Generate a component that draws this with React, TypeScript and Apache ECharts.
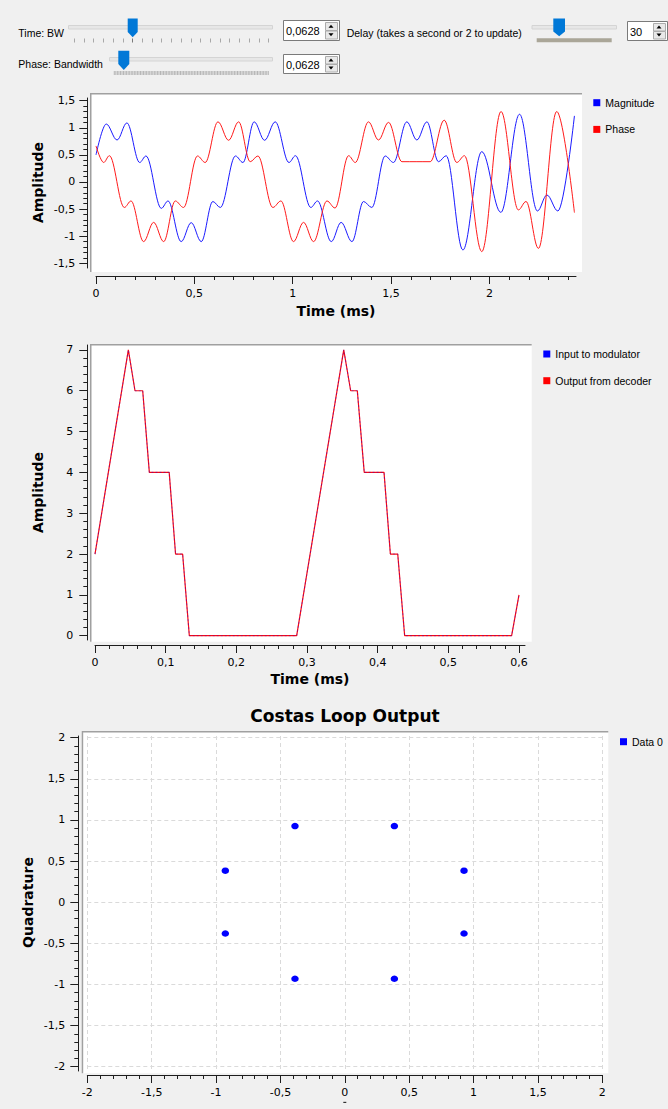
import React, { useEffect, useRef } from "react";
import * as echarts from "echarts";

// ---------- data ----------
// Chart 1: Time (ms) vs Amplitude (local extrema of each trace)
const magTime = [0, 0.052, 0.107, 0.157, 0.222, 0.254, 0.332, 0.366, 0.433, 0.484, 0.535, 0.594, 0.632, 0.709, 0.747, 0.804, 0.857, 0.911, 0.981, 1.014, 1.092, 1.126, 1.196, 1.246, 1.301, 1.36, 1.402, 1.47, 1.512, 1.58, 1.631, 1.682, 1.741, 1.78, 1.865, 1.961, 2.058, 2.153, 2.244, 2.292, 2.348, 2.432];
const magValues = [0.5, 1.07, 0.775, 1.09, 0.36, 0.48, -0.486, -0.35, -1.1, -0.75, -1.1, -0.36, -0.47, 0.48, 0.36, 1.11, 0.77, 1.11, 0.36, 0.485, -0.47, -0.35, -1.1, -0.745, -1.1, -0.36, -0.47, 0.48, 0.36, 1.11, 0.775, 1.11, 0.375, 0.485, -1.255, 0.56, -0.56, 1.25, -0.535, -0.24, -0.535, 1.22];
const phaseTime = [0, 0.039, 0.068, 0.144, 0.178, 0.242, 0.293, 0.344, 0.403, 0.445, 0.516, 0.555, 0.62, 0.674, 0.725, 0.784, 0.823, 0.899, 0.94, 1.004, 1.055, 1.106, 1.174, 1.215, 1.284, 1.318, 1.385, 1.436, 1.487, 1.555, 1.699, 1.77, 1.834, 1.873, 1.961, 2.059, 2.147, 2.186, 2.249, 2.342, 2.432];
const phaseValues = [0.665, 0.36, 0.485, -0.47, -0.35, -1.1, -0.745, -1.1, -0.35, -0.47, 0.48, 0.36, 1.11, 0.77, 1.11, 0.375, 0.48, -0.47, -0.35, -1.1, -0.745, -1.1, -0.35, -0.48, 0.485, 0.36, 1.11, 0.775, 1.1, 0.375, 0.375, 1.14, 0.36, 0.485, -1.285, 1.3, -0.515, -0.36, -1.225, 1.3, -0.565];

// Chart 2: decoder
const decoderTime = [0, 0.0472, 0.0566, 0.0675, 0.0769, 0.105, 0.114, 0.124, 0.1335, 0.2854, 0.352, 0.3618, 0.3712, 0.381, 0.409, 0.418, 0.4284, 0.4382, 0.5896, 0.6];
const inputValues = [2, 7, 6, 6, 4, 4, 2, 2, 0, 0, 7, 6, 6, 4, 4, 2, 2, 0, 0, 1];
const outputValues = [2, 7, 6, 6, 4, 4, 2, 2, 0, 0, 7, 6, 6, 4, 4, 2, 2, 0, 0, 1];

// Chart 3: Costas loop constellation
const costasI = [-0.387, 0.385, -0.928, 0.926, -0.928, 0.926, -0.387, 0.385];
const costasQ = [0.925, 0.925, 0.383, 0.383, -0.38, -0.38, -0.93, -0.93];

// Tick labels
const timeTicks1 = [0, 0.5, 1, 1.5, 2];
const ampTicks1 = [-1.5, -1, -0.5, 0, 0.5, 1, 1.5];
const timeTicks2 = [0, 0.1, 0.2, 0.3, 0.4, 0.5, 0.6];
const ampTicks2 = [0, 1, 2, 3, 4, 5, 6, 7];
const iqTicks = [-2, -1.5, -1, -0.5, 0, 0.5, 1, 1.5, 2];

// ---------- styling helpers ----------
const TICK_FONT = '"DejaVu Sans", sans-serif';
const UI_FONT = '"Liberation Sans", Arial, sans-serif';
const AXIS_COLOR = "#1e1e1e";

function steps(min: number, max: number, step: number): number[] {
  const out: number[] = [];
  const n = Math.round((max - min) / step);
  for (let i = 0; i <= n; i++) out.push(Math.round((min + i * step) * 10000) / 10000);
  return out;
}
const fmt = (v: number) => String(Math.round(v * 1000) / 1000).replace(".", ",");

function axisPair(
  gridIndex: number,
  position: string,
  min: number,
  max: number,
  major: number[],
  minor: number[],
  offset: number,
  margin: number,
  split?: boolean
) {
  return [
    {
      type: "value",
      gridIndex,
      position,
      offset,
      min,
      max,
      axisLine: { show: true, onZero: false, lineStyle: { color: AXIS_COLOR, width: 1 } },
      axisTick: { show: true, length: 8, customValues: major, lineStyle: { color: AXIS_COLOR, width: 1 } },
      axisLabel: {
        show: true,
        customValues: major,
        margin,
        formatter: fmt,
        color: "#000",
        fontSize: 11,
        fontFamily: TICK_FONT,
      },
      splitLine: split
        ? { show: true, lineStyle: { color: "#dadada", width: 1, type: [4, 3] } }
        : { show: false },
      minorTick: { show: false },
    },
    {
      type: "value",
      gridIndex,
      position,
      offset,
      min,
      max,
      axisLine: { show: false, onZero: false },
      axisTick: { show: true, length: 4, customValues: minor, lineStyle: { color: AXIS_COLOR, width: 1 } },
      axisLabel: { show: false },
      splitLine: { show: false },
    },
  ];
}

function spinBox(x: number, y: number, w: number, h: number, text: string) {
  const bx = x + w - 15;
  const half = (h - 4) / 2;
  const cx = bx + 6;
  const upC = y + 2 + half / 2;
  const dnC = y + 2 + half + half / 2;
  return [
    { type: "rect", shape: { x: x + 0.5, y: y + 0.5, width: w - 1, height: h - 1 }, style: { fill: "#ffffff", stroke: "#7a7a7a", lineWidth: 1 } },
    { type: "text", x: x + 3, y: y + h / 2 + 0.5, style: { text, font: `11px ${UI_FONT}`, fill: "#000", align: "left", verticalAlign: "middle" } },
    { type: "rect", shape: { x: bx + 0.5, y: y + 2.5, width: 12, height: half - 0.5 }, style: { fill: "#e8e8e8", stroke: "#acacac", lineWidth: 1 } },
    { type: "rect", shape: { x: bx + 0.5, y: y + 2.5 + half, width: 12, height: half - 0.5 }, style: { fill: "#e8e8e8", stroke: "#acacac", lineWidth: 1 } },
    { type: "polygon", shape: { points: [[cx - 2.5, upC + 1.5], [cx + 2.5, upC + 1.5], [cx, upC - 1.5]] }, style: { fill: "#000" } },
    { type: "polygon", shape: { points: [[cx - 2.5, dnC - 1.5], [cx + 2.5, dnC - 1.5], [cx, dnC + 1.5]] }, style: { fill: "#000" } },
  ];
}

function canvasFrame(x: number, y: number, w: number, h: number) {
  return [
    { type: "rect", z: -10, shape: { x, y, width: w, height: h }, style: { fill: "#ffffff" } },
    { type: "polyline", z: -9, shape: { points: [[x + 0.75, y + h], [x + 0.75, y + 0.75], [x + w, y + 0.75]] }, style: { stroke: "#a0a0a0", lineWidth: 1.5, fill: null } },
  ];
}

function buildGraphic() {
  const els: any[] = [];
  // ----- controls -----
  els.push({ type: "text", x: 18.3, y: 32.7, style: { text: "Time: BW", font: `10.5px ${UI_FONT}`, fill: "#000", align: "left", verticalAlign: "middle" } });
  els.push({ type: "text", x: 18.3, y: 64.3, style: { text: "Phase: Bandwidth", font: `10.5px ${UI_FONT}`, fill: "#000", align: "left", verticalAlign: "middle" } });
  els.push({ type: "text", x: 346.7, y: 32.7, style: { text: "Delay (takes a second or 2 to update)", font: `10.5px ${UI_FONT}`, fill: "#000", align: "left", verticalAlign: "middle" } });

  // slider grooves
  els.push({ type: "rect", shape: { x: 68.5, y: 25.5, width: 204, height: 3.5 }, style: { fill: "#e7e7e7", stroke: "#d4d4d4", lineWidth: 1 } });
  els.push({ type: "rect", shape: { x: 109.5, y: 57.5, width: 163, height: 3.5 }, style: { fill: "#e7e7e7", stroke: "#d4d4d4", lineWidth: 1 } });
  els.push({ type: "rect", shape: { x: 532, y: 25.5, width: 84.5, height: 3.5 }, style: { fill: "#e7e7e7", stroke: "#d4d4d4", lineWidth: 1 } });

  // slider 1 ticks
  for (let i = 0; i < 21; i++) {
    const tx = Math.round(74 + i * 9.715) + 0.5;
    els.push({ type: "line", shape: { x1: tx, y1: 38.5, x2: tx, y2: 42.5 }, style: { stroke: i === 6 ? "#7a7a7a" : "#a8a8a8", lineWidth: 1 } });
  }
  // slider 2 dense ticks
  for (let i = 0; i <= 100; i++) {
    const tx = 114.3 + i * 1.54;
    els.push({ type: "line", shape: { x1: tx, y1: 71, x2: tx, y2: 75 }, style: { stroke: "#a6a6a6", lineWidth: 0.8 } });
  }
  // slider 3 tick band
  els.push({ type: "rect", shape: { x: 536.7, y: 38.3, width: 75, height: 4 }, style: { fill: "#aaa698" } });

  // handles
  els.push({ type: "polygon", shape: { points: [[127.7, 18.5], [137.7, 18.5], [137.7, 32], [132.7, 37.3], [127.7, 32]] }, style: { fill: "#0078d7" } });
  els.push({ type: "polygon", shape: { points: [[118.3, 50.7], [129.3, 50.7], [129.3, 64], [123.8, 70], [118.3, 64]] }, style: { fill: "#0078d7" } });
  els.push({ type: "polygon", shape: { points: [[553.3, 18.5], [565, 18.5], [565, 31.5], [559.2, 36.2], [553.3, 31.5]] }, style: { fill: "#0078d7" } });

  // spin boxes
  els.push(...spinBox(283, 20, 57, 21, "0,0628"));
  els.push(...spinBox(283, 54, 57, 20, "0,0628"));
  els.push(...spinBox(627, 21, 41, 20, "30"));

  // ----- plot canvases -----
  els.push(...canvasFrame(90, 93, 492, 179));
  els.push(...canvasFrame(90, 344, 441.7, 297.7));
  els.push(...canvasFrame(81.7, 731, 526.6, 342.3));

  // ----- titles -----
  const bold14 = `bold 14px ${TICK_FONT}`;
  els.push({ type: "text", x: 37.7, y: 182.5, rotation: Math.PI / 2, style: { text: "Amplitude", font: bold14, fill: "#000", align: "center", verticalAlign: "middle" } });
  els.push({ type: "text", x: 336, y: 311, style: { text: "Time (ms)", font: bold14, fill: "#000", align: "center", verticalAlign: "middle" } });
  els.push({ type: "text", x: 37.7, y: 492.5, rotation: Math.PI / 2, style: { text: "Amplitude", font: bold14, fill: "#000", align: "center", verticalAlign: "middle" } });
  els.push({ type: "text", x: 310, y: 679.3, style: { text: "Time (ms)", font: bold14, fill: "#000", align: "center", verticalAlign: "middle" } });
  els.push({ type: "text", x: 28.3, y: 902.5, rotation: Math.PI / 2, style: { text: "Quadrature", font: bold14, fill: "#000", align: "center", verticalAlign: "middle" } });
  els.push({ type: "text", x: 345, y: 715.7, style: { text: "Costas Loop Output", font: `bold 17px ${TICK_FONT}`, fill: "#000", align: "center", verticalAlign: "middle" } });
  els.push({ type: "rect", shape: { x: 343.3, y: 1101.8, width: 3, height: 1.2 }, style: { fill: "#333" } });

  return els.map((e) => ({ silent: true, ...e }));
}

const legendBase = {
  show: true,
  orient: "vertical",
  padding: 0,
  itemWidth: 7,
  itemHeight: 7,
  itemGap: 12.7,
  icon: "rect",
  selectedMode: false,
  itemStyle: { borderWidth: 0, opacity: 1 },
  textStyle: { fontFamily: UI_FONT, fontSize: 10.5, color: "#000", lineHeight: 14 },
};

export default function App() {
  const ref = useRef<HTMLDivElement>(null);

  useEffect(() => {
    if (!ref.current) return;
    document.body.style.margin = "0";
    const chart = echarts.init(ref.current, null, { renderer: "svg" });

    const xAxes = [
      ...axisPair(0, "bottom", 0, 2.44, timeTicks1, steps(0, 2.4, 0.1), 8, 12),
      ...axisPair(1, "bottom", 0, 0.6085, timeTicks2, steps(0, 0.6, 0.02), 5, 12),
      ...axisPair(2, "bottom", -2, 2, iqTicks, steps(-2, 2, 0.1), 4, 12, true),
    ];
    const yAxes = [
      ...axisPair(0, "left", -1.587, 1.55, ampTicks1, steps(-1.5, 1.5, 0.1), 8.7, 12),
      ...axisPair(1, "left", -0.105, 7.12, ampTicks2, steps(0, 7, 0.2), 7.7, 14),
      ...axisPair(2, "left", -2.052, 2.02, iqTicks, steps(-2, 2, 0.1), 9, 13, true),
    ];

    const option: any = {
      animation: false,
      backgroundColor: "#f0f0f0",
      textStyle: { fontFamily: TICK_FONT },
      grid: [
        { left: 96, top: 98, width: 480, height: 170, outerBoundsMode: "none", containLabel: false },
        { left: 95, top: 345, width: 430, height: 295, outerBoundsMode: "none", containLabel: false },
        { left: 87.3, top: 736, width: 515, height: 335, outerBoundsMode: "none", containLabel: false },
      ],
      xAxis: xAxes,
      yAxis: yAxes,
      legend: [
        { ...legendBase, left: 593.3, top: 95.7, data: ["Magnitude", "Phase"] },
        { ...legendBase, left: 543.3, top: 347, data: ["Input to modulator", "Output from decoder"] },
        { ...legendBase, left: 620, top: 734.7, data: ["Data 0"] },
      ],
      graphic: { elements: buildGraphic() },
      series: [
        {
          type: "line",
          name: "Magnitude",
          xAxisIndex: 0,
          yAxisIndex: 0,
          data: magTime.map((t, i) => [t, magValues[i]]),
          showSymbol: false,
          smooth: 0.36,
          smoothMonotone: "x",
          color: "#0000ff",
          lineStyle: { color: "#1a1aff", width: 1 },
          silent: true,
        },
        {
          type: "line",
          name: "Phase",
          xAxisIndex: 0,
          yAxisIndex: 0,
          data: phaseTime.map((t, i) => [t, phaseValues[i]]),
          showSymbol: false,
          smooth: 0.36,
          smoothMonotone: "x",
          color: "#ff0000",
          lineStyle: { color: "#ff1a1a", width: 1 },
          silent: true,
        },
        {
          type: "line",
          name: "Input to modulator",
          xAxisIndex: 2,
          yAxisIndex: 2,
          data: decoderTime.map((t, i) => [t, inputValues[i]]),
          showSymbol: false,
          color: "#0000ff",
          lineStyle: { color: "#0000ff", width: 1.1, type: [2, 2], opacity: 0.35 },
          z: 4,
          silent: true,
        },
        {
          type: "line",
          name: "Output from decoder",
          xAxisIndex: 2,
          yAxisIndex: 2,
          data: decoderTime.map((t, i) => [t, outputValues[i]]),
          showSymbol: false,
          color: "#ff0000",
          lineStyle: { color: "#ff0a0a", width: 1.2 },
          z: 3,
          silent: true,
        },
        {
          type: "scatter",
          name: "Data 0",
          xAxisIndex: 4,
          yAxisIndex: 4,
          data: costasI.map((x, i) => [x, costasQ[i]]),
          symbol: "circle",
          symbolSize: [7.5, 6.5],
          color: "#0000ff",
          itemStyle: { color: "#0000ff", opacity: 1 },
          silent: true,
        },
      ],
    };

    chart.setOption(option);
    return () => {
      chart.dispose();
    };
  }, []);

  return (
    <div
      ref={ref}
      style={{ position: "absolute", left: 0, top: 0, width: 668, height: 1109 }}
    />
  );
}
